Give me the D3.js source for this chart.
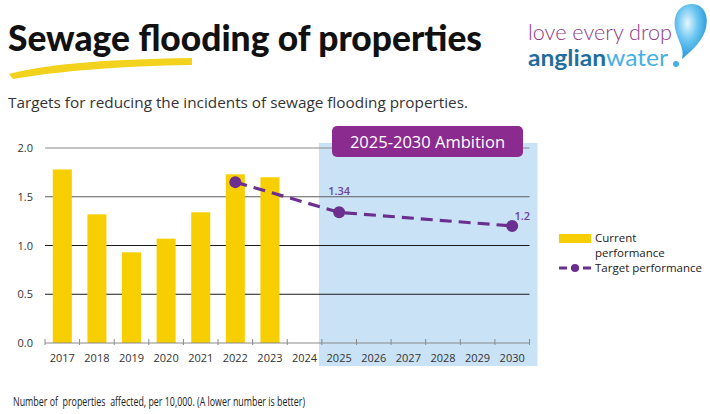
<!DOCTYPE html>
<html><head><meta charset="utf-8">
<script src="https://cdn.jsdelivr.net/npm/d3@7"></script>
<style>body{margin:0;background:#fff}svg{display:block}text{white-space:pre}</style>
</head><body><svg id="c" width="710" height="414"></svg>
<script>
const years = ["2017","2018","2019","2020","2021","2022","2023","2024","2025","2026","2027","2028","2029","2030"];
const currentYears = ["2017","2018","2019","2020","2021","2022","2023"];
const currentValues = [1.78, 1.32, 0.93, 1.07, 1.34, 1.73, 1.70];
const targetYears = ["2022","2025","2030"];
const targetValues = [1.65, 1.34, 1.2];
const targetLabels = ["", "1.34", "1.2"];
const yTicks = [0, 0.5, 1.0, 1.5, 2.0];

const svg = d3.select("#c");
const F = "Lato, 'Open Sans', sans-serif";

// Title
svg.append("text").attr("x",8).attr("y",51).attr("font-family",F).attr("font-weight",900)
  .attr("font-size",36).attr("fill","#111").attr("textLength",474).attr("lengthAdjust","spacingAndGlyphs")
  .text("Sewage flooding of properties");
svg.append("path").attr("d","M9,74 C50,63 120,59 192,58 L192,65 C120,66 60,71 13,79 Z").attr("fill","#F2D21C");

// Logo
svg.append("text").attr("x",528).attr("y",40).attr("font-family",F).attr("font-weight",300)
  .attr("font-size",21).attr("fill","#8E3A8C").attr("textLength",144).attr("lengthAdjust","spacingAndGlyphs").text("love every drop");
const lg = svg.append("text").attr("x",528).attr("y",66).attr("font-family",F).attr("font-size",23)
  .attr("textLength",140).attr("lengthAdjust","spacingAndGlyphs");
lg.append("tspan").attr("font-weight",700).attr("fill","#1F6E9E").text("anglian");
lg.append("tspan").attr("font-weight",400).attr("fill","#47B0E3").text("water");
const defs = svg.append("defs");
const grad = defs.append("radialGradient").attr("id","drop").attr("cx","40%").attr("cy","35%").attr("r","70%");
grad.append("stop").attr("offset","0%").attr("stop-color","#E6F6FF");
grad.append("stop").attr("offset","45%").attr("stop-color","#6CC6F2");
grad.append("stop").attr("offset","100%").attr("stop-color","#1C8FD2");
svg.append("path").attr("d","M692,4 C704,4 709,16 706,28 C703,40 693,50 682,59 C685,48 677,40 675,28 C673,14 680,4 692,4 Z").attr("fill","url(#drop)");
svg.append("circle").attr("cx",676).attr("cy",64).attr("r",3).attr("fill","#47B0E3");

// Subtitle
svg.append("text").attr("x",8).attr("y",108).attr("font-family","'Open Sans', sans-serif").attr("font-size",14.5)
  .attr("fill","#333").attr("textLength",460).attr("lengthAdjust","spacingAndGlyphs")
  .text("Targets for reducing the incidents of sewage flooding properties.");

// Scales
const x = d3.scaleBand().domain(years).range([45,529.5]).paddingInner(0.45).paddingOuter(0.225);
const y = d3.scaleLinear().domain([0,2]).range([343,148]);

// Shaded ambition region
const shadeLeft = x("2025") - x.step()*x.paddingInner()/2 - 3;
svg.append("rect").attr("x",shadeLeft).attr("y",143).attr("width",537.5-shadeLeft).attr("height",223).attr("fill","#C9E2F5");

// Gridlines
const gridColor = v => v===2 ? "#8a8a8a" : (v===1.5 ? "#5e5e5e" : "#1a1a1a");
svg.append("g").selectAll("line").data(yTicks.filter(v=>v>0)).join("line")
  .attr("x1",45).attr("x2",529.5).attr("y1",d=>y(d)).attr("y2",d=>y(d))
  .attr("stroke",gridColor).attr("stroke-width",1.2);

// Y axis labels
svg.append("g").selectAll("text").data(yTicks).join("text")
  .attr("x",33).attr("y",d=>y(d)+4).attr("text-anchor","end").attr("font-family","'Open Sans', sans-serif")
  .attr("font-size",11).attr("fill","#333").text(d=>d.toFixed(1));

// Bars
svg.append("g").selectAll("rect").data(currentYears.map((d,i)=>({k:d,v:currentValues[i]}))).join("rect")
  .attr("x",d=>x(d.k)).attr("width",x.bandwidth()).attr("y",d=>y(d.v)).attr("height",d=>y(0)-y(d.v)).attr("fill","#F7CF00");

// X axis
svg.append("line").attr("x1",45).attr("x2",529.5).attr("y1",y(0)).attr("y2",y(0)).attr("stroke","#8a8a8a").attr("stroke-width",1);
const bounds = years.map((d,i)=>45 + i*x.step()).concat([529.5]);
svg.append("g").selectAll("line").data(bounds).join("line")
  .attr("x1",d=>d).attr("x2",d=>d).attr("y1",y(0)-4).attr("y2",y(0)+2).attr("stroke","#8a8a8a");
svg.append("g").selectAll("text").data(years).join("text")
  .attr("x",d=>x(d)+x.bandwidth()/2).attr("y",362).attr("text-anchor","middle")
  .attr("font-family","'Open Sans', sans-serif").attr("font-size",11).attr("fill","#333").text(d=>d);

// Target line
const tData = targetYears.map((d,i)=>({k:d,v:targetValues[i],l:targetLabels[i]}));
const cx = d=>x(d.k)+x.bandwidth()/2;
svg.append("path").datum(tData).attr("d",d3.line().x(cx).y(d=>y(d.v)))
  .attr("fill","none").attr("stroke","#6A2F8F").attr("stroke-width",3.2).attr("stroke-dasharray","12,7");
svg.append("g").selectAll("circle").data(tData).join("circle")
  .attr("cx",cx).attr("cy",d=>y(d.v)).attr("r",6).attr("fill","#6A2F8F");
svg.append("g").selectAll("text").data(tData.filter(d=>d.l)).join("text")
  .attr("x",(d,i)=> i===0 ? cx(d) : cx(d)+10).attr("y",(d,i)=> i===0 ? y(d.v)-17 : y(d.v)-6)
  .attr("text-anchor","middle").attr("font-family","'Open Sans', sans-serif").attr("font-weight",600)
  .attr("font-size",11).attr("fill","#6B45A0").text(d=>d.l);

// Ambition box
svg.append("rect").attr("x",332).attr("y",126).attr("width",191).attr("height",31).attr("rx",5).attr("fill","#8B2B90");
svg.append("text").attr("x",427.5).attr("y",147.5).attr("text-anchor","middle").attr("font-family","'Open Sans', sans-serif")
  .attr("font-size",16.5).attr("fill","#fff").text("2025-2030 Ambition");

// Legend
const LF = "'Open Sans', sans-serif";
svg.append("rect").attr("x",559).attr("y",234).attr("width",32).attr("height",9).attr("fill","#F7CF00");
svg.append("text").attr("x",595).attr("y",242).attr("font-family",LF).attr("font-size",11.5).attr("fill","#222").text("Current");
svg.append("text").attr("x",595).attr("y",257).attr("font-family",LF).attr("font-size",11.5).attr("fill","#222").text("performance");
svg.append("line").attr("x1",559).attr("x2",591).attr("y1",268).attr("y2",268).attr("stroke","#6A2F8F").attr("stroke-width",3).attr("stroke-dasharray","8,4");
svg.append("circle").attr("cx",575).attr("cy",268).attr("r",4).attr("fill","#6A2F8F");
svg.append("text").attr("x",595).attr("y",272).attr("font-family",LF).attr("font-size",11.5).attr("fill","#222").text("Target performance");

// Footnote
svg.append("text").attr("x",13).attr("y",406).attr("font-family",LF).attr("font-size",13).attr("fill","#222")
  .attr("textLength",292).attr("lengthAdjust","spacingAndGlyphs")
  .text("Number of  properties  affected, per 10,000. (A lower number is better)");
</script></body></html>
